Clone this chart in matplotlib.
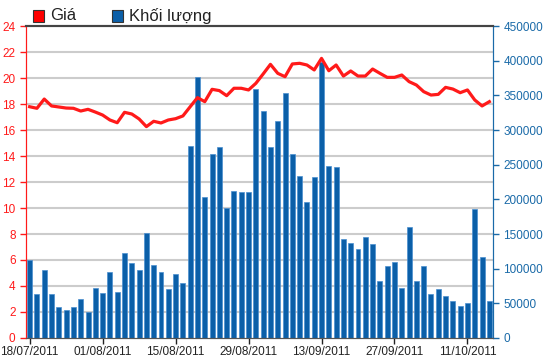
import matplotlib.pyplot as plt
from matplotlib.patches import Rectangle

plt.rcParams["font.family"] = ["Liberation Sans", "DejaVu Sans"]

# trading-day labels shown on the x axis (every 10th session)
tick_labels = ["18/07/2011", "01/08/2011", "15/08/2011", "29/08/2011",
               "13/09/2011", "27/09/2011", "11/10/2011"]
tick_index = [0, 10, 20, 30, 40, 50, 60]

price = [
    17.79, 17.67, 18.38, 17.85, 17.77, 17.69, 17.67, 17.46, 17.59, 17.38,
    17.15, 16.77, 16.56, 17.36, 17.23, 16.85, 16.26, 16.67, 16.54, 16.77,
    16.87, 17.08, 17.79, 18.49, 18.18, 19.13, 19.03, 18.64, 19.21, 19.21,
    19.08, 19.59, 20.31, 21.05, 20.36, 20.10, 21.08, 21.13, 21.00, 20.62,
    21.51, 20.56, 21.00, 20.15, 20.54, 20.15, 20.15, 20.69, 20.36, 20.05,
    20.05, 20.23, 19.72, 19.46, 18.95, 18.69, 18.74, 19.28, 19.15, 18.87,
    19.08, 18.31, 17.85, 18.18,
]

volume = [
    112500, 63400, 98000, 63400, 45200, 39900, 45200, 56700, 37500, 72100,
    64900, 95700, 66800, 122600, 108200, 98000, 151900, 104800, 95700, 70700,
    92300, 79300, 277000, 376000, 203800, 265000, 275500, 187500, 212500, 210600,
    210600, 358700, 327900, 276000, 313000, 353000, 265000, 234000, 195700, 232600,
    398400, 248500, 247100, 142400, 137000, 128000, 145700, 135100, 82700, 104300,
    110000, 72100, 160100, 82700, 104300, 63000, 70200, 61000, 53800, 46600,
    50500, 185600, 116800, 53800,
]

RED = "#ff1a1a"
BLUE = "#0b5fa8"
x = list(range(len(volume)))

fig = plt.figure(figsize=(5.5, 3.64), dpi=100)
ax = fig.add_axes([26 / 550, 26 / 364, 467 / 550, 312 / 364])
ax2 = ax.twinx()

# price axis carries the grid; volume bars go on the twin behind the line
ax.set_zorder(ax2.get_zorder() + 1)
ax.patch.set_visible(False)

ax2.bar(x, volume, width=0.68, color=BLUE, edgecolor="#4a8fd0", linewidth=0.5, zorder=2)
ax2.set_ylim(0, 450000)
ax2.set_yticks(range(0, 450001, 50000))
ax2.tick_params(axis="y", colors="#1a6aa8", labelsize=8.5, length=4, width=1)
for y in range(2, 24, 2):
    ax2.axhline(y * 450000 / 24, color="#cccccc", linewidth=1.5, zorder=1)

ax.plot(x, price, color=RED, linewidth=2.3, zorder=3)
ax.set_ylim(0, 24)
ax.set_yticks(range(0, 25, 2))
ax.set_xlim(-0.5, 63.5)
ax.set_xticks(tick_index)
ax.set_xticklabels(tick_labels)
ax.tick_params(axis="y", colors=RED, labelsize=8.5, length=4, width=1)
ax.tick_params(axis="x", colors="#222222", labelsize=8.5, length=4, width=1, pad=2)

for a in (ax, ax2):
    a.spines["left"].set_color(RED)
    a.spines["right"].set_color("#1a6aa8")
    a.spines["top"].set_color("#444444")
    a.spines["top"].set_linewidth(1.5)
    a.spines["bottom"].set_color("#555555")

# legend drawn by hand above the plot
fig.patches.append(Rectangle((33 / 550, 1 - 22 / 364), 11 / 550, 12 / 364,
                             transform=fig.transFigure, facecolor="#ff0000",
                             edgecolor="#333333", linewidth=0.8))
fig.text(50 / 550, 1 - 16 / 364, "Giá", fontsize=12, va="center", color="#222222")
fig.patches.append(Rectangle((112 / 550, 1 - 22 / 364), 11 / 550, 12 / 364,
                             transform=fig.transFigure, facecolor=BLUE,
                             edgecolor="#333333", linewidth=0.8))
fig.text(129 / 550, 1 - 16 / 364, "Khối lượng", fontsize=12, va="center", color="#222222")

fig.savefig("out.png", dpi=100)
